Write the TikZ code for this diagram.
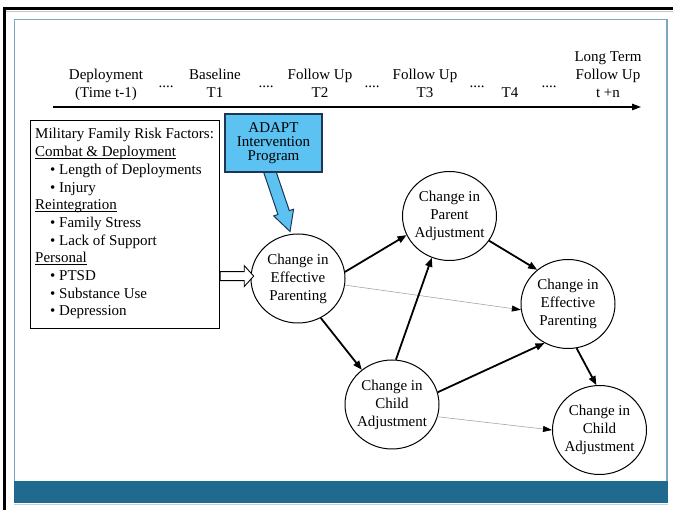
\documentclass[tikz,border=0pt]{standalone}
\usepackage{fontspec}
\setmainfont{Liberation Serif}
\usetikzlibrary{arrows.meta,shapes.geometric,calc}
\definecolor{barblue}{HTML}{216A8F}
\definecolor{framebl}{HTML}{7DA7BF}
\definecolor{adaptfill}{HTML}{5CC2F2}
\definecolor{adaptedge}{HTML}{1F3554}
\newcommand\zw[1]{\makebox[0pt]{#1}}
\newcommand\ulx[1]{\setbox0\hbox{#1}\rlap{\rule[-2pt]{\wd0}{0.7pt}}\box0}
\begin{document}
\begin{tikzpicture}[x=1pt,y=-1pt,
  txt/.style={font=\fontsize{15}{18}\selectfont, inner sep=0pt},
  bubble/.style={ellipse, draw, line width=1pt, minimum width=94pt, minimum height=89pt,
    inner sep=0pt, align=center, font=\fontsize{15}{18}\selectfont, fill=white},
  strong/.style={line width=1.8pt, -{Triangle[length=9pt,width=7pt]}},
  faint/.style={line width=0.6pt, draw=gray!70, -{Triangle[length=9pt,width=6pt,color=black]}}]
\useasboundingbox (0,0) rectangle (673,510);
% frames
\draw[line width=3pt] (4,510) -- (4,9) -- (673,9);
\draw[gray!45, line width=1pt] (5.5,11.3) -- (673,11.3);
\draw[framebl, line width=1.5pt] (14.5,481) -- (14.5,19.5) -- (667,19.5) -- (667,481);
\fill[barblue] (14,481) rectangle (667.8,503.5);
\draw[framebl!50, line width=1pt] (14,504.5) -- (667.8,504.5);
% timeline
\node[txt, align=center, anchor=south, text depth=4pt] (tDep) at (106,102) {Deployment\\(Time t-1)};
\node[txt, align=center, anchor=south, text depth=4pt] (tBase) at (215,102) {Baseline\\T1};
\node[txt, align=center, anchor=south, text depth=4pt] (tT2) at (320,102) {Follow Up\\T2};
\node[txt, align=center, anchor=south, text depth=4pt] (tT3) at (425,102) {Follow Up\\T3};
\node[txt, align=center, anchor=south, text depth=4pt] (tT4) at (510,102) {T4};
\node[txt, align=center, anchor=south, text depth=4pt] (tLong) at (608,102) {Long Term\\Follow Up\\t +n};
\node[txt, anchor=base] (d1) at (166,88) {....};
\node[txt, anchor=base] (d2) at (266,88) {....};
\node[txt, anchor=base] (d3) at (372,88) {....};
\node[txt, anchor=base] (d4) at (477,88) {....};
\node[txt, anchor=base] (d5) at (549,88) {....};
\coordinate (ta) at (53,107);
\coordinate (tb) at (641,107);
\draw[line width=1.2pt, -{Triangle[length=9pt,width=6.5pt]}] (ta) -- (tb);
% risk box
\node[draw, line width=1.2pt, minimum width=189pt, minimum height=208pt, anchor=north west, inner sep=0pt] (risk) at (30,120) {};
\node[txt, anchor=base west] (r1) at (35,139) {Military Family Risk Factors:};
\node[txt, anchor=base west] (r2) at (35,156.7) {\ulx{Combat \& Deployment}};
\node[txt, anchor=base west] (r3) at (50,174.4) {\textbullet\ Length of Deployments};
\node[txt, anchor=base west] (r4) at (50,192.1) {\textbullet\ Injury};
\node[txt, anchor=base west] (r5) at (35,209.8) {\ulx{Reintegration}};
\node[txt, anchor=base west] (r6) at (50,227.5) {\textbullet\ Family Stress};
\node[txt, anchor=base west] (r7) at (50,245.2) {\textbullet\ Lack of Support};
\node[txt, anchor=base west] (r8) at (35,262.9) {\ulx{Personal}};
\node[txt, anchor=base west] (r9) at (50,280.6) {\textbullet\ PTSD};
\node[txt, anchor=base west] (r10) at (50,298.3) {\textbullet\ Substance Use};
\node[txt, anchor=base west] (r11) at (50,316) {\textbullet\ Depression};
% bubbles
\node[bubble] (EP1) at (298,278.5) {\zw{Change in}\\\zw{Effective}\\\zw{Parenting}};
\node[bubble] (PA) at (449.5,216) {\zw{Change in}\\\zw{Parent}\\\zw{Adjustment}};
\node[bubble] (EP2) at (568,304) {\zw{Change in}\\\zw{Effective}\\\zw{Parenting}};
\node[bubble] (CA1) at (392,404.5) {\zw{Change in}\\\zw{Child}\\\zw{Adjustment}};
\node[bubble] (CA2) at (599.5,430) {\zw{Change in}\\\zw{Child}\\\zw{Adjustment}};
% ADAPT box and arrow
\node[minimum width=97pt, minimum height=58pt, inner sep=0pt] (adaptpos) at (273.5,143) {};
\coordinate (bs) at ($(adaptpos.south)+(-5.9,-7)$);
\begin{scope}[shift={(bs)}, rotate=-71.3]
  \filldraw[fill=adaptfill, draw=adaptedge, line width=1pt]
    (0,-6) -- (50,-6) -- (50,-10.5) -- (70,0) -- (50,10.5) -- (50,6) -- (0,6) -- cycle;
\end{scope}
\node[draw=adaptedge, fill=adaptfill, line width=1.2pt, minimum width=97pt, minimum height=58pt,
  inner sep=0pt, align=center, font=\fontsize{15}{14}\selectfont] (adapt) at (273.5,143)
  {ADAPT\\Intervention\\Program};
% hollow arrow
\coordinate (ha) at ($(risk.east)+(0,51.5)$);
\begin{scope}[shift={(ha)}]
  \filldraw[fill=white, draw=black, line width=0.9pt]
    (0,-4.5) -- (24,-4.5) -- (24,-10.5) -- (33.5,0) -- (24,10.5) -- (24,4.5) -- (0,4.5) -- cycle;
\end{scope}
% connectors
\draw[strong] (EP1.8) -- (PA.204);
\draw[faint] (EP1.352) -- (EP2.187);
\draw[strong] (EP1.300) -- (CA1.131);
\draw[strong] (CA1.85) -- (PA.247);
\draw[strong] (CA1.15) -- (EP2.239);
\draw[faint] (CA1.345) -- (CA2.180);
\draw[strong] (PA.328) -- (EP2.132);
\draw[strong] (EP2.281) -- (CA2.94);
\end{tikzpicture}
\end{document}
